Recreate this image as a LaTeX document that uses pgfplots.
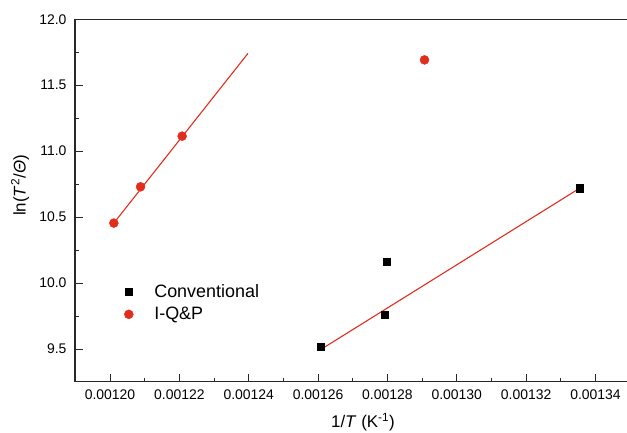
\documentclass[border=0pt]{standalone}
\usepackage{pgfplots}
\pgfplotsset{compat=1.18}
\usepackage{fontspec}
\setmainfont{Liberation Sans}
\definecolor{fitred}{RGB}{226,44,28}
\definecolor{axgray}{RGB}{40,40,40}
\begin{document}
\begin{tikzpicture}[x=1bp,y=1bp]
\useasboundingbox (0,0) rectangle (627,432);
\begin{axis}[
  at={(75bp,50.3bp)}, anchor=south west,
  scale only axis, width=552bp, height=362.4bp,
  xmin=0.0011899, xmax=0.0013491,
  ymin=9.2523, ymax=12.0,
  separate axis lines,
  axis x line*=box, axis y line*=left,
  axis line style={-, axgray, line width=1.2pt},
  xtick pos=bottom, ytick pos=left,
  tick align=inside,
  major tick length=7.5bp, minor tick length=4bp,
  every tick/.style={axgray, line width=0.9pt},
  scaled x ticks=false,
  xtick={0.0012,0.00122,0.00124,0.00126,0.00128,0.0013,0.00132,0.00134},
  xticklabels={0.00120,0.00122,0.00124,0.00126,0.00128,0.00130,0.00132,0.00134},
  minor x tick num=1,
  ytick={9.5,10,10.5,11,11.5,12},
  yticklabels={9.5,10.0,10.5,11.0,11.5,12.0},
  minor y tick num=1,
  tick label style={font=\fontsize{14}{16}\selectfont},
  xticklabel style={yshift=-5bp},
  yticklabel style={xshift=-5bp},
  xlabel={1/\textit{T} (K\textsuperscript{-1})},
  ylabel={ln(\textit{T}\textsuperscript{2}/\textit{Θ})},
  label style={font=\fontsize{17}{20}\selectfont},
  xlabel style={at={(axis description cs:0.5217,-0.111)}, anchor=center},
  ylabel style={at={(axis description cs:-0.0996,0.5414)}, anchor=center, rotate=0},
  legend style={at={(axis description cs:0.089,0.275)}, anchor=north west,
    draw=none, fill=none, font=\fontsize{18}{21}\selectfont,
    row sep=4.6bp, inner sep=0pt,
    /tikz/every odd column/.append style={column sep=19bp}},
  legend cell align=left,
  clip=false,
]
\addplot[only marks, mark=square*, mark size=3.6bp, black] coordinates {
  (0.0012607,9.515) (0.0012799,10.161) (0.0012793,9.758) (0.0013355,10.720)
};
\addlegendentry{Conventional}
\addplot[only marks, mark=*, mark size=4.5bp, fitred] coordinates {
  (0.0012011,10.455) (0.0012088,10.730) (0.0012208,11.114) (0.0012907,11.692)
};
\addlegendentry{I-Q\&P}
\addplot[fitred, line width=1.1pt, forget plot] coordinates {
  (0.0012011,10.455) (0.0012398,11.742)
};
\addplot[fitred, line width=1.1pt, forget plot] coordinates {
  (0.0012607,9.495) (0.0013355,10.720)
};
\end{axis}
\end{tikzpicture}
\end{document}
